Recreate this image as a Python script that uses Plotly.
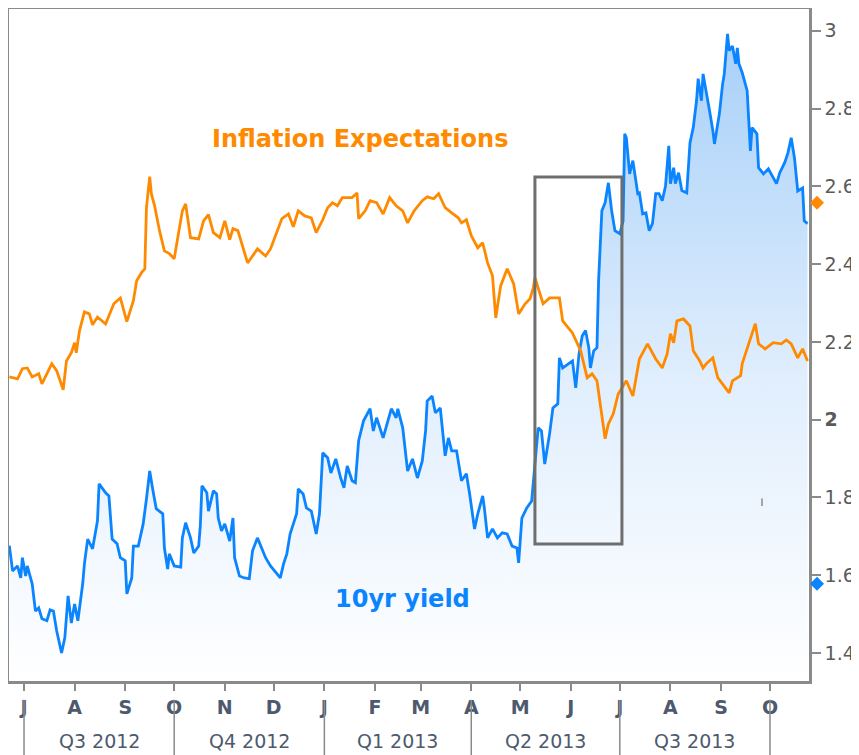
import pandas as pd
import plotly.graph_objects as go

start = pd.Timestamp("2012-07-01")

# Inflation expectations: days since 2012-07-01 and values
ie_days = [-9, -4, -1, 2, 5, 9, 11, 14, 17, 20,
           24, 26, 29, 31, 32, 34, 37, 40, 42, 45,
           50, 55, 59, 63, 67, 69, 72, 74, 75, 77,
           78, 80, 81, 83, 86, 89, 92, 97, 99, 102,
           107, 110, 113, 116, 120, 123, 126, 128, 131, 137,
           143, 148, 151, 155, 158, 162, 165, 168, 172, 176,
           179, 183, 186, 189, 192, 195, 201, 204, 205, 209,
           212, 216, 220, 224, 228, 232, 235, 239, 244, 247,
           251, 254, 258, 262, 266, 268, 271, 274, 278, 281,
           284, 287, 289, 292, 296, 300, 303, 307, 310, 312,
           313, 318, 322, 328, 330, 336, 341, 345, 348, 351,
           353, 356, 358, 361, 364, 369, 373, 377, 382, 387,
           391, 394, 396, 398, 400, 404, 408, 410, 414, 416,
           418, 422, 425, 428, 432, 434, 439, 440, 445, 448,
           450, 454, 459, 464, 467, 470, 474, 477, 480]
ie_vals = [2.11, 2.105, 2.131, 2.133, 2.11, 2.118, 2.092, 2.118, 2.144, 2.126,
           2.077, 2.151, 2.172, 2.198, 2.172, 2.229, 2.277, 2.272, 2.244, 2.264,
           2.246, 2.298, 2.313, 2.252, 2.306, 2.357, 2.378, 2.388, 2.545, 2.625,
           2.581, 2.55, 2.529, 2.486, 2.434, 2.427, 2.414, 2.537, 2.555, 2.468,
           2.465, 2.511, 2.527, 2.481, 2.468, 2.511, 2.463, 2.491, 2.486, 2.403,
           2.439, 2.421, 2.439, 2.481, 2.517, 2.529, 2.496, 2.537, 2.524, 2.519,
           2.481, 2.514, 2.545, 2.558, 2.55, 2.571, 2.571, 2.583, 2.517, 2.537,
           2.563, 2.558, 2.529, 2.571, 2.55, 2.537, 2.506, 2.537, 2.563, 2.573,
           2.568, 2.581, 2.545, 2.532, 2.519, 2.506, 2.514, 2.473, 2.442, 2.455,
           2.403, 2.37, 2.262, 2.344, 2.388, 2.349, 2.272, 2.298, 2.311, 2.339,
           2.365, 2.298, 2.313, 2.313, 2.254, 2.223, 2.177, 2.108, 2.118, 2.1,
           2.041, 1.951, 1.989, 2.015, 2.066, 2.1, 2.061, 2.156, 2.195, 2.156,
           2.133, 2.169, 2.221, 2.198, 2.254, 2.259, 2.241, 2.177, 2.151, 2.133,
           2.144, 2.159, 2.108, 2.092, 2.069, 2.1, 2.113, 2.144, 2.208, 2.247,
           2.195, 2.182, 2.198, 2.195, 2.205, 2.195, 2.159, 2.182, 2.151]

# 10yr yield: days since 2012-07-01 and values
y10_days = [-9, -7, -4, -2, -1, 1, 2, 5, 7, 9,
            11, 14, 16, 18, 20, 23, 25, 27, 29, 31,
            33, 36, 37, 39, 42, 45, 46, 50, 52, 54,
            57, 59, 62, 63, 66, 67, 70, 73, 75, 77,
            79, 81, 85, 86, 88, 89, 92, 96, 97, 99,
            102, 104, 107, 108, 109, 112, 113, 116, 118, 119,
            121, 123, 126, 128, 129, 132, 135, 138, 140, 143,
            148, 151, 157, 159, 161, 163, 165, 167, 168, 171,
            173, 176, 179, 181, 183, 186, 188, 191, 194, 196,
            198, 201, 203, 205, 208, 212, 214, 216, 220, 223,
            225, 228, 229, 232, 235, 238, 241, 244, 246, 247,
            250, 252, 255, 258, 260, 262, 265, 268, 271, 273,
            276, 278, 281, 282, 284, 287, 290, 293, 296, 299,
            302, 303, 305, 308, 311, 313, 315, 317, 319, 322,
            324, 327, 328, 330, 336, 338, 340, 342, 344, 346,
            347, 349, 351, 352, 354, 356, 358, 360, 362, 365,
            367, 368, 369, 371, 373, 376, 377, 379, 381, 383,
            385, 387, 389, 391, 393, 395, 396, 398, 399, 401,
            403, 406, 407, 408, 410, 412, 413, 415, 416, 418,
            420, 422, 423, 425, 426, 428, 429, 431, 432, 434,
            436, 437, 438, 440, 443, 444, 445, 446, 449, 450,
            453, 456, 459, 461, 463, 466, 468, 470, 472, 474,
            477, 478, 480]
y10_vals = [1.676, 1.611, 1.624, 1.593, 1.645, 1.598, 1.624, 1.578, 1.508, 1.516,
            1.488, 1.483, 1.511, 1.508, 1.457, 1.400, 1.439, 1.547, 1.477, 1.526,
            1.483, 1.580, 1.629, 1.693, 1.668, 1.740, 1.835, 1.812, 1.804, 1.693,
            1.681, 1.645, 1.637, 1.552, 1.593, 1.675, 1.675, 1.732, 1.796, 1.868,
            1.817, 1.771, 1.758, 1.670, 1.616, 1.655, 1.624, 1.621, 1.696, 1.735,
            1.696, 1.657, 1.675, 1.727, 1.830, 1.812, 1.765, 1.817, 1.809, 1.747,
            1.714, 1.732, 1.688, 1.747, 1.645, 1.598, 1.593, 1.591, 1.663, 1.696,
            1.645, 1.624, 1.593, 1.629, 1.655, 1.706, 1.732, 1.758, 1.822, 1.809,
            1.773, 1.765, 1.706, 1.758, 1.915, 1.902, 1.863, 1.899, 1.850, 1.825,
            1.881, 1.843, 1.838, 1.946, 1.997, 2.028, 1.971, 2.005, 1.953, 1.997,
            2.028, 2.005, 2.028, 1.979, 1.868, 1.899, 1.850, 1.894, 1.971, 2.048,
            2.061, 2.018, 2.030, 1.907, 1.953, 1.920, 1.920, 1.843, 1.861, 1.809,
            1.719, 1.758, 1.804, 1.773, 1.696, 1.719, 1.696, 1.709, 1.706, 1.675,
            1.670, 1.632, 1.747, 1.773, 1.791, 1.886, 1.979, 1.971, 1.886, 1.964,
            2.030, 2.041, 2.159, 2.133, 2.151, 2.082, 2.169, 2.216, 2.229, 2.185,
            2.133, 2.177, 2.185, 2.357, 2.537, 2.558, 2.609, 2.537, 2.486, 2.478,
            2.511, 2.735, 2.725, 2.632, 2.666, 2.581, 2.583, 2.529, 2.532, 2.486,
            2.504, 2.581, 2.581, 2.563, 2.601, 2.704, 2.607, 2.648, 2.607, 2.635,
            2.589, 2.583, 2.648, 2.712, 2.751, 2.820, 2.877, 2.820, 2.889, 2.846,
            2.794, 2.743, 2.709, 2.761, 2.787, 2.864, 2.889, 2.992, 2.949, 2.961,
            2.915, 2.956, 2.915, 2.892, 2.846, 2.769, 2.691, 2.751, 2.735, 2.648,
            2.632, 2.645, 2.622, 2.607, 2.635, 2.661, 2.686, 2.725, 2.673, 2.588,
            2.596, 2.511, 2.504]

month_starts = pd.date_range("2012-07-01", "2013-10-01", freq="MS")
month_letters = ["J", "A", "S", "O", "N", "D", "J", "F", "M", "A", "M", "J", "J", "A", "S", "O"]
quarter_starts = pd.date_range("2012-07-01", "2013-10-01", freq="QS")
quarter_labels = ["Q3 2012", "Q4 2012", "Q1 2013", "Q2 2013", "Q3 2013"]
y_ticks = [1.4, 1.6, 1.8, 2.0, 2.2, 2.4, 2.6, 2.8, 3.0]
y_tick_text = ["1.4", "1.6", "1.8", "<b>2</b>", "2.2", "2.4", "2.6", "2.8", "3"]
edge_markers = {"ie": 2.558, "y10": 1.578}

ORANGE = "#ff8a00"
BLUE = "#0a84ff"
GRAY = "#8a8a8a"
TXT = "#4d5a6e"
FONT = "DejaVu Sans, Verdana, sans-serif"

def dates(days):
    return start + pd.to_timedelta(days, unit="D")

x_lo = start + pd.Timedelta(days=-9.2)
x_hi = start + pd.Timedelta(days=480.9)

fig = go.Figure()
fig.add_trace(go.Scatter(
    x=dates(y10_days), y=y10_vals, mode="lines",
    line=dict(color=BLUE, width=2.8),
    fill="tozeroy",
    fillgradient=dict(type="vertical",
                      colorscale=[[0, "#ffffff"], [0.45, "#e0eefd"], [1, "#a4cef8"]],
                      start=1.33, stop=3.05),
    hoverinfo="skip", showlegend=False))
fig.add_trace(go.Scatter(
    x=dates(ie_days), y=ie_vals, mode="lines",
    line=dict(color=ORANGE, width=2.8),
    hoverinfo="skip", showlegend=False))

shapes = []
# edge value markers (diamonds just right of the value axis)
diamond = "M -7 0 L 0 7 L 7 0 L 0 -7 Z"
for key, col in (("ie", ORANGE), ("y10", BLUE)):
    shapes.append(dict(type="path", path=diamond,
                       xref="paper", xsizemode="pixel", xanchor=1.01,
                       yref="y", ysizemode="pixel", yanchor=edge_markers[key],
                       fillcolor=col, line=dict(width=0), layer="above"))
# highlight rectangle
shapes.append(dict(type="rect", xref="x", yref="y",
                   x0=start + pd.Timedelta(days=313), x1=start + pd.Timedelta(days=366.3),
                   y0=1.680, y1=2.624, line=dict(color="#6e6e6e", width=3)))
# tiny stray tick
shapes.append(dict(type="line", xref="x", yref="y",
                   x0=start + pd.Timedelta(days=452.1), x1=start + pd.Timedelta(days=452.1),
                   y0=1.778, y1=1.797, line=dict(color="#8a8a8a", width=1.5)))
# quarter separators
for q in quarter_starts:
    shapes.append(dict(type="line", xref="x", yref="paper", x0=q, x1=q,
                       y0=-0.028, y1=-0.115, line=dict(color=GRAY, width=1.5)))

annotations = [
    dict(x=start + pd.Timedelta(days=205.8), y=2.722, xref="x", yref="y",
         text="<b>Inflation Expectations</b>", showarrow=False,
         font=dict(family=FONT, size=24, color=ORANGE)),
    dict(x=start + pd.Timedelta(days=231.6), y=1.539, xref="x", yref="y",
         text="<b>10yr yield</b>", showarrow=False,
         font=dict(family=FONT, size=24, color=BLUE)),
]
for a, b, lab in zip(quarter_starts[:-1], quarter_starts[1:], quarter_labels):
    mid = a + (b - a) / 2
    annotations.append(dict(x=mid, y=-0.089, xref="x", yref="paper", text=lab,
                            showarrow=False, yanchor="middle",
                            font=dict(family=FONT, size=19, color=TXT)))

fig.update_layout(
    width=851, height=747,
    margin=dict(l=1, r=50, t=1, b=74, autoexpand=False),
    paper_bgcolor="white", plot_bgcolor="white",
    showlegend=False,
    shapes=shapes, annotations=annotations,
    xaxis=dict(type="date", range=[x_lo, x_hi], automargin=False,
               tickvals=month_starts, ticktext=["<b>%s</b>" % m for m in month_letters],
               ticks="outside", ticklen=7, tickwidth=1.5, tickcolor=GRAY,
               showline=True, linecolor=GRAY, linewidth=2.5, mirror=True,
               showgrid=False, zeroline=False,
               tickfont=dict(family=FONT, size=19, color=TXT)),
    yaxis=dict(side="right", range=[1.328, 3.056], automargin=False,
               tickvals=y_ticks, ticktext=y_tick_text,
               ticks="outside", ticklen=9, tickwidth=1.5, tickcolor=GRAY,
               ticklabelstandoff=0,
               showline=True, linecolor=GRAY, linewidth=2.5, mirror=True,
               showgrid=False, zeroline=False,
               tickfont=dict(family=FONT, size=19, color="#5a5a5a")),
)

fig.write_html("out.html")
